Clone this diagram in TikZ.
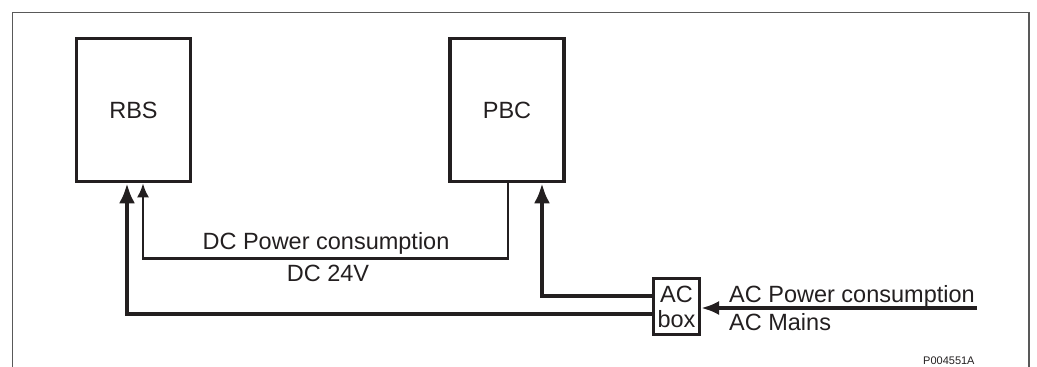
\documentclass[tikz,border=0pt]{standalone}
\usepackage{fontspec}
\setmainfont{Liberation Sans}
\usetikzlibrary{arrows.meta,positioning}

\definecolor{ink}{HTML}{231F20}

\begin{document}
\begin{tikzpicture}[x=1pt, y=-1pt,
    every node/.style={font=\fontsize{23.5}{25}\selectfont, text=ink, inner sep=0pt},
    unit/.style={draw=ink, line width=3.5pt, minimum width=114pt, minimum height=143pt},
    acbox/.style={draw=ink, line width=3pt, minimum width=46pt, minimum height=56pt, align=center},
    dcline/.style={draw=ink, line width=2.6pt, -{Latex[length=14pt, width=12pt]}},
    feed/.style={draw=ink, line width=4pt, -{Latex[length=20pt, width=16pt]}},
    mains/.style={draw=ink, line width=4pt, -{Latex[length=18pt, width=14pt]}}]
    \useasboundingbox (0,0) rectangle (1037,367);

    % Frame
    \draw[gray!70!black, line width=1.3pt] (12.5,380) -- (12.5,12.5) -- (1029,12.5) -- (1029,380);

    % Units
    \node[unit] (rbs) at (133.5,110) {RBS};
    \node[unit] (pbc) at (507,110) {PBC};
    \node[acbox] (ac) at (676.5,306.5) {AC\\box};

    % DC supply from PBC to RBS
    \draw[dcline] ([xshift=1pt]pbc.south) -- ++(0,75) -| ([xshift=9.5pt]rbs.south);
    \node (dcpow) at (326,243) {DC Power consumption};
    \node (dcvolt) at (328,273) {DC 24V};

    % AC feeds
    \draw[feed] ([yshift=10.5pt]ac.west) -| ([xshift=35pt]pbc.south);
    \draw[feed] ([yshift=-7.5pt]ac.west) -| ([xshift=-6.5pt]rbs.south);
    \coordinate (mainsin) at (977,308);
    \draw[mains] (mainsin) -- (mainsin -| ac.east);
    \node[anchor=base west] (acpow) at (729,302) {AC Power consumption};
    \node[anchor=base west] (acmains) at (729,330) {AC Mains};

    % Drawing number
    \node[anchor=base west, font=\fontsize{11}{12}\selectfont] (ref) at (923,364) {P004551A};
\end{tikzpicture}
\end{document}
